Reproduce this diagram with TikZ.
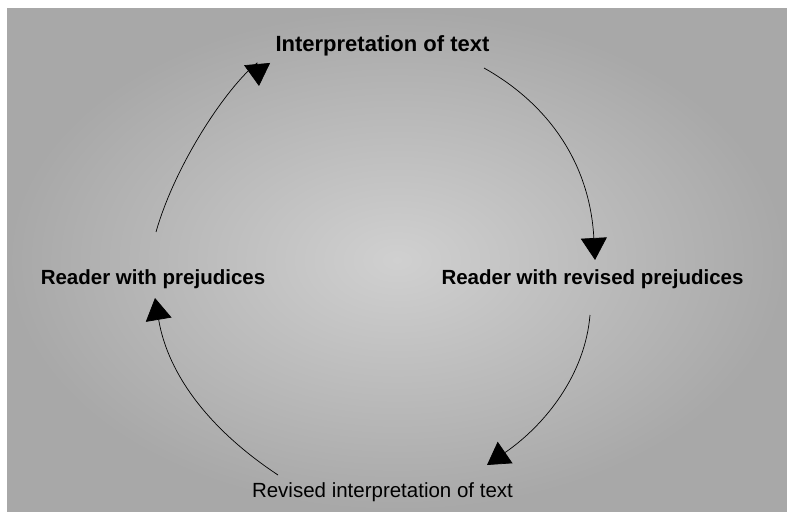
\documentclass[tikz,border=0pt]{standalone}
\usepackage{fontspec}
\setmainfont{Liberation Sans}
\usetikzlibrary{arrows.meta}
\definecolor{screenlight}{RGB}{208,208,208}
\definecolor{screendark}{RGB}{168,168,168}
\tikzset{
  phase/.style={anchor=base,inner sep=2pt,font=\bfseries\fontsize{20.5}{24}\selectfont},
  cyc/.style={line width=0.7pt,-{Triangle[length=22pt,width=26pt]}}
}
\begin{document}
\begin{tikzpicture}[x=1pt,y=1pt]
  \useasboundingbox (0,0) rectangle (787,515);
  \shade[inner color=screenlight,outer color=screendark] (7,4) rectangle (787,506);
  % the four stages
  \node[phase,font=\bfseries\fontsize{22}{26}\selectfont] (interp) at (382.5,463) {Interpretation of text};
  \node[phase] (revreader) at (592.5,231) {Reader with revised prejudices};
  \node[phase,font=\fontsize{20.5}{24}\selectfont] (revinterp) at (382.5,18) {Revised interpretation of text};
  \node[phase] (reader) at (153,231) {Reader with prejudices};
  % the circle
  \draw[cyc] ([shift={(3,52)}]reader.base) .. controls +(19,67) and +(-31,-25) ..
     ([shift={(-125.5,-11)}]interp.base) -- ([shift={(-123.5,-34)}]interp.base);
  \draw[cyc] ([shift={(101.5,-16)}]interp.base) .. controls +(66,-37) and +(-5,95) ..
     ([shift={(2.5,24)}]revreader.base);
  \draw[cyc] ([shift={(-2.5,-31)}]revreader.base) .. controls +(-5,-60) and +(58,40) ..
     ([shift={(104.5,32)}]revinterp.base);
  \draw[cyc] ([shift={(-104.5,22)}]revinterp.base) .. controls +(-68,45) and +(13,-77) ..
     ([shift={(2,-14)}]reader.base);
\end{tikzpicture}
\end{document}
